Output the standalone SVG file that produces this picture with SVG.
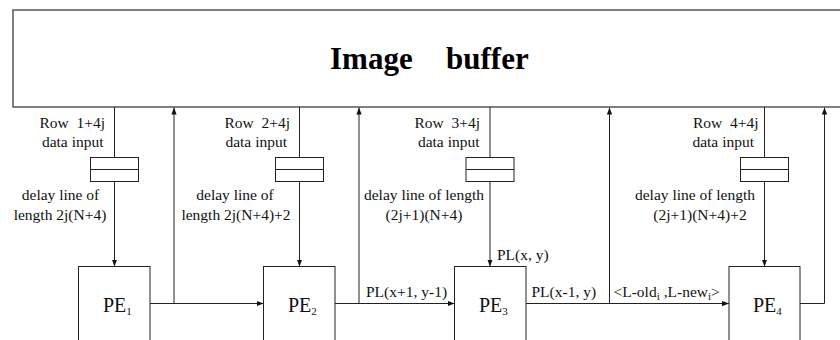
<svg xmlns="http://www.w3.org/2000/svg" width="840" height="340" viewBox="0 0 840 340">
<defs>
<marker id="ah" viewBox="0 0 8 8" refX="8" refY="4" markerWidth="7" markerHeight="7" markerUnits="userSpaceOnUse" orient="auto">
<path d="M0,1 L8,4 L0,7 Z" fill="#111"/>
</marker>
<style>
.t{font-family:"Liberation Serif","Times New Roman",serif;font-size:15.5px;fill:#111;white-space:pre}
.title{font-family:"Liberation Serif","Times New Roman",serif;font-size:31px;font-weight:bold;fill:#000}
.pe{font-family:"Liberation Serif","Times New Roman",serif;font-size:20px;fill:#111}
.sub{font-size:11px}
.box{fill:#fff;stroke:#222;stroke-width:1}
.ln{fill:none;stroke:#222;stroke-width:1}
.buf{fill:#fff;stroke:#555;stroke-width:1.5}
</style>
</defs>
<rect width="840" height="340" fill="#fff"/>
<g id="buffer">
<rect class="buf" x="13" y="10" width="840" height="97"/>
<text class="title" x="330" y="69">Image</text>
<text class="title" x="446" y="69">buffer</text>
</g>
<g id="connectors">
<path class="ln" d="M114.5,107 V157.5"/>
<path class="ln" d="M114.5,181.5 V266.5" marker-end="url(#ah)"/>
<path class="ln" d="M299.5,107 V157.5"/>
<path class="ln" d="M299.5,181.5 V266.5" marker-end="url(#ah)"/>
<path class="ln" d="M490,107 V157.5"/>
<path class="ln" d="M490,181.5 V266.5" marker-end="url(#ah)"/>
<path class="ln" d="M764.5,107 V157.5"/>
<path class="ln" d="M764.5,181.5 V266.5" marker-end="url(#ah)"/>
<path class="ln" d="M150,303.5 H263.5" marker-end="url(#ah)"/>
<path class="ln" d="M174,303.5 V107.5" marker-end="url(#ah)"/>
<path class="ln" d="M335,303.5 H454.5" marker-end="url(#ah)"/>
<path class="ln" d="M359,303.5 V107.5" marker-end="url(#ah)"/>
<path class="ln" d="M526,303.5 H729" marker-end="url(#ah)"/>
<path class="ln" d="M609.5,303.5 V107.5" marker-end="url(#ah)"/>
<path class="ln" d="M800,303.5 H824.5 V107.5" marker-end="url(#ah)"/>
</g>
<g id="delay1">
<rect class="box" x="90.5" y="157.5" width="48" height="24"/>
<path class="ln" d="M90.5,169.5 H138.5"/>
<text class="t" x="105" y="128" text-anchor="end">Row  1+4j</text>
<text class="t" x="103.5" y="146.5" text-anchor="end">data input</text>
<text class="t" x="60.5" y="200" text-anchor="middle">delay line of</text>
<text class="t" x="60" y="220" text-anchor="middle">length 2j(N+4)</text>
</g>
<g id="delay2">
<rect class="box" x="275.5" y="157.5" width="48" height="24"/>
<path class="ln" d="M275.5,169.5 H323.5"/>
<text class="t" x="290" y="128" text-anchor="end">Row  2+4j</text>
<text class="t" x="287" y="146.5" text-anchor="end">data input</text>
<text class="t" x="235" y="200" text-anchor="middle">delay line of</text>
<text class="t" x="236" y="220" text-anchor="middle">length 2j(N+4)+2</text>
</g>
<g id="delay3">
<rect class="box" x="466" y="157.5" width="48" height="24"/>
<path class="ln" d="M466,169.5 H514"/>
<text class="t" x="480" y="128" text-anchor="end">Row  3+4j</text>
<text class="t" x="479.5" y="146.5" text-anchor="end">data input</text>
<text class="t" x="424" y="200" text-anchor="middle">delay line of length</text>
<text class="t" x="424" y="220" text-anchor="middle">(2j+1)(N+4)</text>
</g>
<g id="delay4">
<rect class="box" x="740.5" y="157.5" width="48" height="24"/>
<path class="ln" d="M740.5,169.5 H788.5"/>
<text class="t" x="758.5" y="128" text-anchor="end">Row  4+4j</text>
<text class="t" x="754" y="146.5" text-anchor="end">data input</text>
<text class="t" x="695" y="200" text-anchor="middle">delay line of length</text>
<text class="t" x="700" y="220" text-anchor="middle">(2j+1)(N+4)+2</text>
</g>
<g id="pe1">
<rect class="box" x="78.5" y="266.5" width="71.5" height="90"/>
<text class="pe" x="103" y="312">PE<tspan class="sub" dy="3">1</tspan></text>
</g>
<g id="pe2">
<rect class="box" x="263.5" y="266.5" width="71.5" height="90"/>
<text class="pe" x="288" y="312">PE<tspan class="sub" dy="3">2</tspan></text>
</g>
<g id="pe3">
<rect class="box" x="454.5" y="266.5" width="71.5" height="90"/>
<text class="pe" x="479" y="312">PE<tspan class="sub" dy="3">3</tspan></text>
</g>
<g id="pe4">
<rect class="box" x="729" y="266.5" width="71" height="90"/>
<text class="pe" x="753" y="312">PE<tspan class="sub" dy="3">4</tspan></text>
</g>
<g id="labels">
<text class="t" x="497" y="260">PL(x, y)</text>
<text class="t" x="366" y="296.5">PL(x+1, y-1)</text>
<text class="t" x="531.5" y="296.5">PL(x-1, y)</text>
<text class="t" x="613.5" y="296.5">&lt;L-old<tspan class="sub" dy="3">i</tspan><tspan dy="-3"> ,L-new</tspan><tspan class="sub" dy="3">i</tspan><tspan dy="-3">&gt;</tspan></text>
</g>
</svg>
